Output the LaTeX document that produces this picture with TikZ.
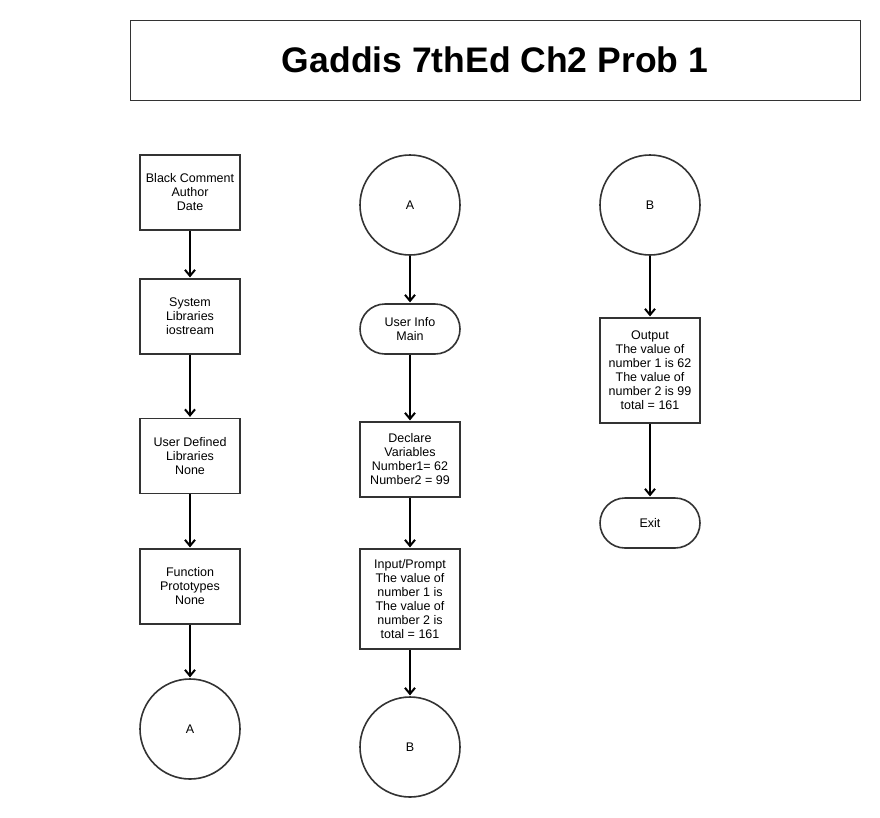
\documentclass[tikz,border=0pt]{standalone}
\usepackage{fontspec}
\setmainfont{Liberation Sans}
\usetikzlibrary{arrows.meta}
\begin{document}
\begin{tikzpicture}[x=1pt,y=-1pt,
  every node/.style={font=\fontsize{12.5}{14}\selectfont, align=center, inner sep=0pt, text=black},
  procbox/.style={draw=black!80, line width=1.6pt, rectangle, minimum width=100pt, minimum height=75pt},
  connector/.style={draw=black!80, line width=1.6pt, circle, minimum size=100pt},
  terminal/.style={draw=black!80, line width=1.6pt, rectangle, rounded corners=25pt, minimum width=100pt, minimum height=50pt},
  flow/.style={draw=black, line width=2pt, -{Straight Barb[length=6pt,width=10pt,line width=2pt]}, shorten >=0.8pt}
]
\useasboundingbox (0,0) rectangle (880,817);
\fill[white] (0,0) rectangle (880,817);
% title
\node[draw=black!80, line width=1pt, minimum width=730pt, minimum height=80pt, font=\fontsize{35.5}{40}\selectfont\bfseries] (title) at (495,60) {Gaddis 7thEd Ch2 Prob 1};
% column 1
\node[procbox] (c1a) at (190,192.5) {Black Comment\\Author\\Date};
\node[procbox] (c1b) at (190,316.5) {System\\Libraries\\iostream};
\node[procbox] (c1c) at (190,456) {User Defined\\Libraries\\None};
\node[procbox] (c1d) at (190,586.5) {Function\\Prototypes\\None};
\node[connector] (c1e) at (190,729) {A};
% column 2
\node[connector] (c2a) at (410,205) {A};
\node[terminal] (c2b) at (410,329) {User Info\\Main};
\node[procbox] (c2c) at (410,459.5) {Declare\\Variables\\Number1= 62\\Number2 = 99};
\node[procbox, minimum height=100pt] (c2d) at (410,599) {Input/Prompt\\The value of\\number 1 is\\The value of\\number 2 is\\total = 161};
\node[connector] (c2e) at (410,747) {B};
% column 3
\node[connector] (c3a) at (650,205) {B};
\node[procbox, minimum height=105pt] (c3b) at (650,370.5) {Output\\The value of\\number 1 is 62\\The value of\\number 2 is 99\\total = 161};
\node[terminal] (c3c) at (650,523) {Exit};
% flows
\draw[flow] (c1a) -- (c1b);
\draw[flow] (c1b) -- (c1c);
\draw[flow] (c1c) -- (c1d);
\draw[flow] (c1d) -- (c1e);
\draw[flow] (c2a) -- (c2b);
\draw[flow] (c2b) -- (c2c);
\draw[flow] (c2c) -- (c2d);
\draw[flow] (c2d) -- (c2e);
\draw[flow] (c3a) -- (c3b);
\draw[flow] (c3b) -- (c3c);
\end{tikzpicture}
\end{document}
